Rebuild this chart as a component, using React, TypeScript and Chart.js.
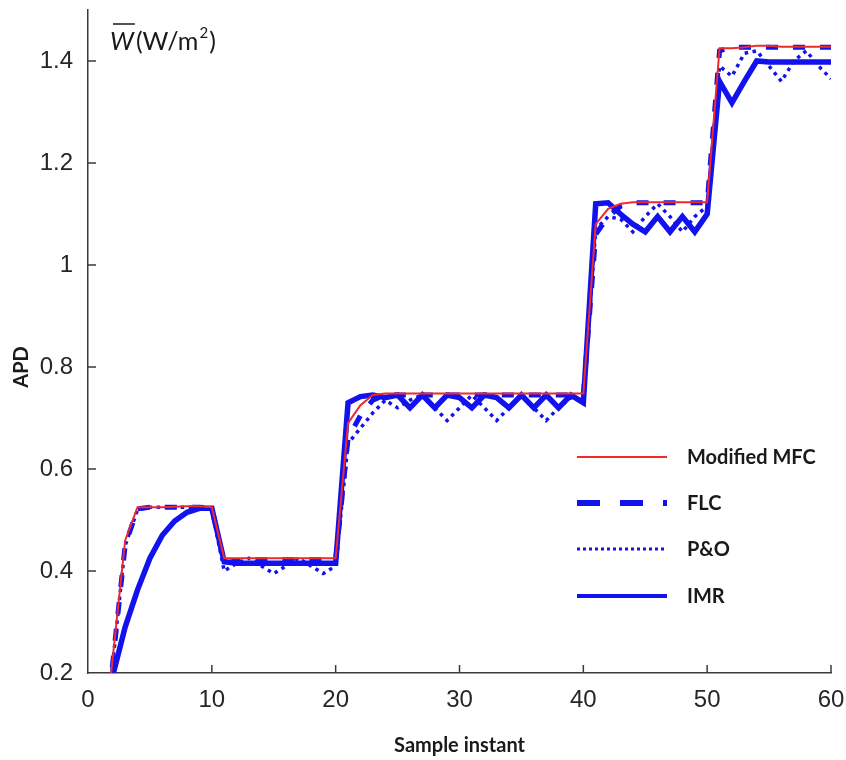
import { useEffect, useRef } from "react";
import { Chart, registerables } from "chart.js";

Chart.register(...registerables);

// ---------- data ----------
const SAMPLES = [
  1, 2, 3, 4, 5, 6, 7, 8, 9, 10,
  11, 12, 13, 14, 15, 16, 17, 18, 19, 20,
  21, 22, 23, 24, 25, 26, 27, 28, 29, 30,
  31, 32, 33, 34, 35, 36, 37, 38, 39, 40,
  41, 42, 43, 44, 45, 46, 47, 48, 49, 50,
  51, 52, 53, 54, 55, 56, 57, 58, 59, 60,
];

const MODIFIED_MFC = [
  0.0, 0.23, 0.46, 0.525, 0.525, 0.525, 0.526, 0.527, 0.527, 0.525,
  0.425, 0.425, 0.425, 0.425, 0.425, 0.425, 0.425, 0.425, 0.425, 0.425,
  0.69, 0.725, 0.745, 0.748, 0.748, 0.748, 0.748, 0.748, 0.748, 0.748,
  0.748, 0.748, 0.748, 0.748, 0.748, 0.748, 0.748, 0.748, 0.748, 0.748,
  1.08, 1.11, 1.12, 1.123, 1.123, 1.123, 1.123, 1.123, 1.123, 1.123,
  1.425, 1.425, 1.427, 1.43, 1.43, 1.428, 1.428, 1.428, 1.428, 1.428,
];

const FLC = [
  0.0, 0.22, 0.45, 0.522, 0.525, 0.525, 0.525, 0.525, 0.525, 0.523,
  0.415, 0.42, 0.422, 0.422, 0.422, 0.422, 0.422, 0.422, 0.422, 0.422,
  0.66, 0.705, 0.735, 0.745, 0.745, 0.745, 0.745, 0.745, 0.745, 0.745,
  0.745, 0.745, 0.745, 0.745, 0.745, 0.745, 0.745, 0.745, 0.745, 0.745,
  1.06, 1.095, 1.115, 1.122, 1.122, 1.122, 1.122, 1.122, 1.122, 1.122,
  1.42, 1.427, 1.427, 1.427, 1.427, 1.427, 1.427, 1.427, 1.427, 1.427,
];

const P_AND_O = [
  0.0, 0.22, 0.45, 0.52, 0.525, 0.525, 0.525, 0.525, 0.525, 0.52,
  0.40, 0.415, 0.425, 0.41, 0.395, 0.41, 0.425, 0.41, 0.395, 0.41,
  0.65, 0.68, 0.71, 0.735, 0.72, 0.735, 0.745, 0.72, 0.695, 0.72,
  0.745, 0.72, 0.695, 0.72, 0.745, 0.72, 0.695, 0.72, 0.74, 0.735,
  1.07, 1.095, 1.09, 1.065, 1.095, 1.12, 1.095, 1.065, 1.095, 1.115,
  1.39, 1.37, 1.415, 1.42, 1.39, 1.36, 1.40, 1.42, 1.39, 1.365,
];

const IMR = [
  0.1, 0.195, 0.29, 0.363, 0.425, 0.47, 0.498, 0.515, 0.523, 0.523,
  0.418, 0.415, 0.415, 0.415, 0.415, 0.415, 0.415, 0.415, 0.415, 0.415,
  0.73, 0.742, 0.745, 0.74, 0.745, 0.72, 0.745, 0.72, 0.745, 0.74,
  0.72, 0.745, 0.74, 0.72, 0.745, 0.72, 0.745, 0.72, 0.745, 0.73,
  1.12, 1.122, 1.10, 1.08, 1.065, 1.095, 1.065, 1.095, 1.065, 1.10,
  1.36, 1.318, 1.36, 1.40, 1.398, 1.398, 1.398, 1.398, 1.398, 1.398,
];

const SERIES_NAMES = ["Modified MFC", "FLC", "P&O", "IMR"];
const X_TICKS = [0, 10, 20, 30, 40, 50, 60];
const Y_TICKS = [0.2, 0.4, 0.6, 0.8, 1.0, 1.2, 1.4];

// ---------- styles ----------
const RED = "#ee2a2a";
const BLUE = "#1212ee";
const AXIS_COLOR = "#3a3a3a";
const TEXT_COLOR = "#1a1a1a";
const LABEL_FONT = "bold 20px Lato";
const LEGEND_DASH = [[], [23, 20], [3, 3], []];
const LEGEND_WIDTH = [2, 6, 3, 4];

function pts(values: number[]) {
  return SAMPLES.map((s, i) => ({ x: s, y: values[i] }));
}

const decorPlugin = {
  id: "decor",
  afterDraw(chart: any) {
    const { ctx, chartArea: a, scales } = chart;
    const xs = scales.x;
    const ys = scales.y;
    ctx.save();

    // inward tick marks
    ctx.strokeStyle = AXIS_COLOR;
    ctx.lineWidth = 1.5;
    X_TICKS.forEach((v) => {
      if (v === X_TICKS[0]) return;
      const px = xs.getPixelForValue(v);
      ctx.beginPath();
      ctx.moveTo(px, a.bottom);
      ctx.lineTo(px, a.bottom - 8);
      ctx.stroke();
    });
    Y_TICKS.forEach((v) => {
      if (v === Y_TICKS[0]) return;
      const py = ys.getPixelForValue(v);
      ctx.beginPath();
      ctx.moveTo(a.left, py);
      ctx.lineTo(a.left + 8, py);
      ctx.stroke();
    });

    // legend
    const ds = chart.data.datasets;
    const rowY = [457, 503, 549, 596];
    const lx0 = a.left + 489;
    const lx1 = a.left + 579;
    ds.forEach((d: any, i: number) => {
      ctx.save();
      ctx.strokeStyle = d.borderColor;
      ctx.lineWidth = LEGEND_WIDTH[i];
      ctx.setLineDash(LEGEND_DASH[i]);
      ctx.lineCap = "butt";
      ctx.beginPath();
      ctx.moveTo(lx0, rowY[i]);
      ctx.lineTo(lx1, rowY[i]);
      ctx.stroke();
      ctx.restore();
      ctx.fillStyle = TEXT_COLOR;
      ctx.font = LABEL_FONT;
      ctx.textAlign = "left";
      ctx.textBaseline = "middle";
      ctx.fillText(d.label, lx1 + 20, rowY[i] + 1);
    });

    // x axis title
    ctx.fillStyle = TEXT_COLOR;
    ctx.font = LABEL_FONT;
    ctx.textAlign = "center";
    ctx.textBaseline = "middle";
    ctx.fillText("Sample instant", (a.left + a.right) / 2, 746);

    // y axis title
    ctx.save();
    ctx.translate(22, 367);
    ctx.rotate(-Math.PI / 2);
    ctx.fillText("APD", 0, 0);
    ctx.restore();

    // unit label (W-bar (W/m^2))
    const bx = a.left + 22;
    const by = 50;
    ctx.textAlign = "left";
    ctx.textBaseline = "alphabetic";
    ctx.font = "italic 25px Lato";
    ctx.fillText("W", bx, by);
    const ww = ctx.measureText("W").width;
    ctx.strokeStyle = TEXT_COLOR;
    ctx.lineWidth = 1.5;
    ctx.beginPath();
    ctx.moveTo(bx + 3, 24);
    ctx.lineTo(bx + ww + 1, 24);
    ctx.stroke();
    let cx = bx + ww + 2;
    ctx.font = "25px Lato";
    ctx.fillText("(W/m", cx, by);
    cx += ctx.measureText("(W/m").width;
    ctx.font = "15px Lato";
    ctx.fillText("2", cx + 1, by - 12);
    cx += ctx.measureText("2").width + 2;
    ctx.font = "25px Lato";
    ctx.fillText(")", cx, by);

    ctx.restore();
  },
};

export default function App() {
  const ref = useRef<HTMLCanvasElement | null>(null);

  useEffect(() => {
    if (!ref.current) return;
    const chart = new Chart(ref.current, {
      type: "line",
      data: {
        datasets: [
          {
            label: SERIES_NAMES[0],
            data: pts(MODIFIED_MFC),
            borderColor: RED,
            borderWidth: 2,
            pointRadius: 0,
            tension: 0,
          },
          {
            label: SERIES_NAMES[1],
            data: pts(FLC),
            borderColor: BLUE,
            borderWidth: 5,
            borderDash: [12, 15],
            pointRadius: 0,
            tension: 0,
          },
          {
            label: SERIES_NAMES[2],
            data: pts(P_AND_O),
            borderColor: BLUE,
            borderWidth: 3.5,
            borderDash: [3.5, 4.5],
            pointRadius: 0,
            tension: 0,
          },
          {
            label: SERIES_NAMES[3],
            data: pts(IMR),
            borderColor: BLUE,
            borderWidth: 5.5,
            pointRadius: 0,
            tension: 0,
          },
        ],
      },
      options: {
        animation: false,
        responsive: false,
        maintainAspectRatio: false,
        layout: { padding: { left: 0, top: 10, right: 15, bottom: 0 } },
        plugins: {
          legend: { display: false },
          tooltip: { enabled: false },
        },
        scales: {
          x: {
            type: "linear",
            min: 0,
            max: 60,
            afterFit: (s: any) => {
              s.height = 87;
              s.paddingLeft = 0;
              s.paddingRight = 0;
            },
            afterBuildTicks: (s: any) => {
              s.ticks = X_TICKS.map((v) => ({ value: v }));
            },
            grid: { display: true, drawOnChartArea: false, drawTicks: false },
            border: { display: true, color: AXIS_COLOR, width: 1.5 },
            ticks: {
              padding: 13,
              color: "#262626",
              font: { family: "Liberation Sans", size: 24 },
              maxRotation: 0,
              callback: (v: any) => String(v),
            },
          },
          y: {
            type: "linear",
            min: 0.2,
            max: 1.5,
            afterFit: (s: any) => {
              s.width = 88;
              s.paddingTop = 0;
              s.paddingBottom = 0;
            },
            afterBuildTicks: (s: any) => {
              s.ticks = Y_TICKS.map((v) => ({ value: v }));
            },
            grid: { display: true, drawOnChartArea: false, drawTicks: false },
            border: { display: true, color: AXIS_COLOR, width: 1.5 },
            ticks: {
              padding: 15,
              color: "#262626",
              font: { family: "Liberation Sans", size: 24 },
              callback: (v: any) => String(Number(Number(v).toFixed(1))),
            },
          },
        },
      },
      plugins: [decorPlugin],
    });
    return () => chart.destroy();
  }, []);

  return (
    <div
      style={{
        position: "fixed",
        left: 0,
        top: 0,
        width: 846,
        height: 760,
        background: "#ffffff",
      }}
    >
      <canvas ref={ref} width={846} height={760} style={{ width: 846, height: 760 }} />
    </div>
  );
}
